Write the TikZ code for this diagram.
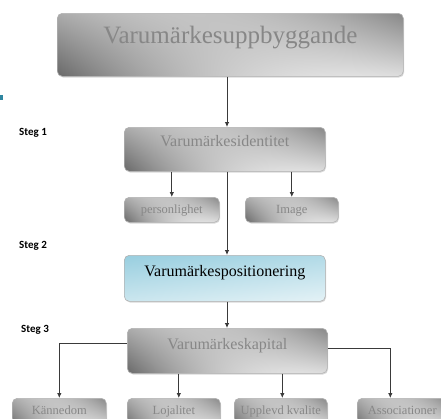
\documentclass[tikz,border=0pt]{standalone}
\usepackage{fontspec}
\setmainfont{Liberation Serif}
\newfontfamily\stegfont{Carlito}
\usetikzlibrary{arrows.meta,shadows}
\definecolor{linec}{HTML}{3A3A3A}
\definecolor{teal1}{HTML}{2E86A0}
\pgfdeclarefunctionalshading{grayfun}{\pgfpointorigin}{\pgfpoint{100bp}{100bp}}{}{
  50 sub 25 div exch 50 sub 25 div
  1 index 1 index mul -0.15 mul
  1 index 0.08 mul add
  2 index -0.02 mul add
  exch dup mul neg 1 add 0.16 mul add
  exch pop 0.62 add dup dup
}
\pgfdeclarefunctionalshading{bluefun}{\pgfpointorigin}{\pgfpoint{100bp}{100bp}}{}{
  50 sub 25 div exch 50 sub 25 div -0.5 mul add 1.5 add 3 div
  dup -0.298 mul 0.894 add exch dup -0.141 mul 0.949 add exch -0.090 mul 0.965 add
}
\begin{document}
\begin{tikzpicture}[x=1pt,y=-1pt,
  box/.style={rounded corners=5pt, draw=black!30, line width=0.6pt,
    inner xsep=0pt, inner ysep=0pt, anchor=north west,
    shading=grayfun, text=black!47,
    drop shadow={shadow xshift=0.8pt, shadow yshift=-1.2pt, opacity=0.3}},
  bluebox/.style={box, shading=bluefun, text=black},
  big/.style={font=\fontsize{25}{25}\selectfont},
  mid/.style={font=\fontsize{16}{16}\selectfont},
  small/.style={font=\fontsize{12.5}{12.5}\selectfont},
  steglbl/.style={anchor=west, inner sep=0pt, font=\stegfont\bfseries\fontsize{11}{11}\selectfont},
  arr/.style={draw=linec, line width=0.8pt, -{Latex[length=5pt,width=4.5pt]}}]
\useasboundingbox (0,0) rectangle (441,418);
\clip (0,0) rectangle (441,418);
\fill[teal1] (0,95) rectangle (3,100);

\coordinate (spine) at (227,0);

\node[box, big, minimum width=346pt, text height=30pt, text depth=33pt] (top) at (57,13) {Varumärkesuppbyggande};
\node[box, mid, minimum width=201pt, text height=19pt, text depth=25pt] (id) at (124,127) {Varumärkesidentitet};
\node[box, small, minimum width=95pt, text height=16pt, text depth=9pt] (pers) at (124,197) {personlighet};
\node[box, small, minimum width=93pt, text height=16pt, text depth=9pt] (img) at (245,197) {Image};
\node[bluebox, mid, minimum width=201pt, text height=21pt, text depth=25pt] (pos) at (124,255) {Varumärkespositionering};
\node[box, mid, minimum width=200pt, text height=21pt, text depth=24pt] (kap) at (127,328) {Varumärkeskapital};
\node[box, small, minimum width=94pt, text height=16pt, text depth=14pt] (kan) at (12,398) {Kännedom};
\node[box, small, minimum width=93pt, text height=16pt, text depth=14pt] (loj) at (127,398) {Lojalitet};
\node[box, small, minimum width=93pt, text height=16pt, text depth=14pt] (upp) at (234,398) {Upplevd kvalite};
\node[box, small, minimum width=90pt, text height=16pt, text depth=14pt] (aso) at (357,398) {Associationer};

\node[steglbl] (s1) at (19,133) {Steg 1};
\node[steglbl] (s2) at (19,246) {Steg 2};
\node[steglbl] (s3) at (21,330) {Steg 3};

\draw[arr] (top.south -| spine) -- (id.north -| spine);
\draw[arr] (id.south -| pers.north) -- (pers.north);
\draw[arr] (id.south -| img.north) -- (img.north);
\draw[arr] (id.south -| spine) -- (pos.north -| spine);
\draw[arr] (pos.south -| spine) -- (kap.north -| spine);
\draw[arr] ([yshift=7pt]kap.west) -| (kan.north);
\draw[arr] ([yshift=2pt]kap.east) -| ([xshift=-12pt]aso.north);
\draw[arr] ([xshift=5pt]kap.south -| loj.north) -- ([xshift=5pt]loj.north);
\draw[arr] ([xshift=1.5pt]kap.south -| upp.north) -- ([xshift=1.5pt]upp.north);
\end{tikzpicture}
\end{document}
